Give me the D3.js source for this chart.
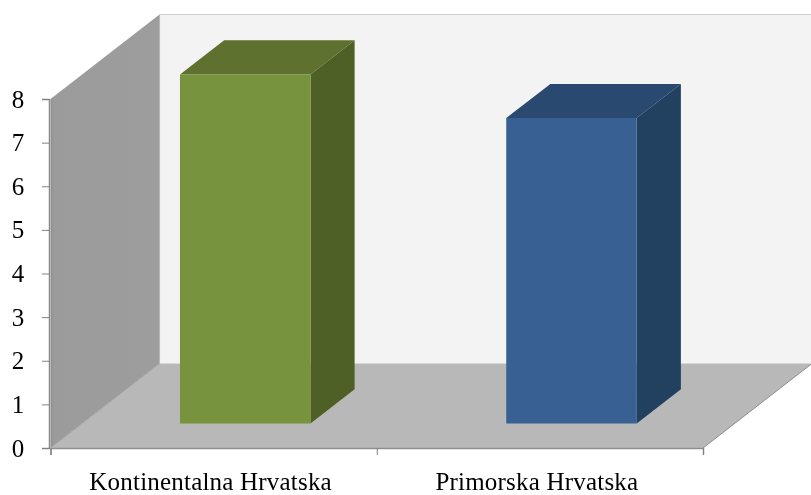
<!DOCTYPE html>
<html><head><meta charset="utf-8">
<script src="https://cdn.jsdelivr.net/npm/d3@7"></script>
<style>
html,body{margin:0;padding:0;background:#fff;}
svg{display:block;}
text{font-family:"Liberation Serif","Times New Roman",serif;fill:#000;}
</style></head><body>
<svg id="c" width="811" height="495"></svg>
<script>
const categories = ["Kontinentalna Hrvatska", "Primorska Hrvatska"];
const values = [8, 7];
const yTicks = [0, 1, 2, 3, 4, 5, 6, 7, 8];
const barFront = ["#77933c", "#376092"];
const barTop = ["#5f712e", "#2a4a70"];
const barSide = ["#4f6126", "#243f5e"];

const svg = d3.select("#c");
const defs = svg.append("defs");
const soft = (id, s) => defs.append("filter").attr("id",id).attr("x","-5%").attr("y","-5%").attr("width","110%").attr("height","110%")
  .append("feGaussianBlur").attr("stdDeviation",s);
soft("soft",0.45); soft("softText",0.3);

const x0 = 50.5, x1 = 703, y0 = 448, y8 = 99;
const depthX = 109, depthY = -84.5;
const x = d3.scaleBand().domain(categories).range([x0, x1]);
const y = d3.scaleLinear().domain([0, 8]).range([y0, y8]);
const line = d3.line();
const project = (px, val, depth) => [px + depthX * depth, y(val) + depthY * depth];

const g = svg.append("g").attr("filter","url(#soft)");

// back wall
g.append("path").attr("d", line([project(x0,0,1), project(x0,8,1), [815,y(8)+depthY], [815,y0+depthY]]))
  .attr("fill","#f3f3f3");
g.append("path").attr("d", line([project(x0,8,1), [815,y(8)+depthY]])).attr("stroke","#cfcfcf").attr("stroke-width",1.2).attr("fill","none");
g.append("path").attr("d", line([project(x0,8,1), project(x0,0,1)])).attr("stroke","#d4d4d4").attr("stroke-width",1.2).attr("fill","none");

// side wall
const wallGrad = defs.append("linearGradient").attr("id","wall").attr("x1",0).attr("x2",1).attr("y1",0).attr("y2",0);
wallGrad.append("stop").attr("offset",0).attr("stop-color","#8f8f8f");
wallGrad.append("stop").attr("offset",0.03).attr("stop-color","#9b9b9b");
wallGrad.append("stop").attr("offset",1).attr("stop-color","#9d9d9d");
g.append("path").attr("d", line([project(x0,0,0), project(x0,8,0), project(x0,8,1), project(x0,0,1)])+"Z")
  .attr("fill","url(#wall)");

// floor
g.append("path").attr("d", line([project(x0,0,0), project(x1,0,0), project(x1,0,1), project(x0,0,1)])+"Z")
  .attr("fill","#b8b8b8");
g.append("path").attr("d", line([project(x1,0,0), project(x1,0,1)])).attr("stroke","#8e8e8e").attr("stroke-width",1).attr("fill","none");
g.append("path").attr("d", line([project(x0,0,0), project(x0,0,1)])).attr("stroke","#a4a4a4").attr("stroke-width",1).attr("fill","none");

// bars
const halfBar = x.bandwidth() * 0.2;
const dNear = 0.29, dFar = 0.695;
categories.forEach((c, i) => {
  const cx = x(c) + x.bandwidth() / 2;
  const L = cx - halfBar, R = cx + halfBar, v = values[i];
  const group = g.append("g");
  group.append("path").attr("d", line([project(L,v,dNear), project(R,v,dNear), project(R,v,dFar), project(L,v,dFar)])+"Z").attr("fill",barTop[i]);
  group.append("path").attr("d", line([project(R,0,dNear), project(R,v,dNear), project(R,v,dFar), project(R,0,dFar)])+"Z").attr("fill",barSide[i]);
  group.append("path").attr("d", line([project(L,0,dNear), project(R,0,dNear), project(R,v,dNear), project(L,v,dNear)])+"Z").attr("fill",barFront[i]);
});

// axes
const axisG = svg.append("g").attr("filter","url(#soft)");
const axisY = d3.axisLeft(y).tickValues(yTicks).tickSize(7).tickFormat("");
const gy = axisG.append("g").attr("transform","translate(49,0)").call(axisY);
gy.selectAll("line").attr("stroke","#808080");
gy.select(".domain").attr("stroke","#8a8a8a").attr("stroke-width",1.5);

const gx = axisG.append("g").attr("transform",`translate(0,${y0})`);
const axisX = d3.axisBottom(d3.scalePoint().domain([0,1,2]).range([x0,x1])).tickSize(7).tickFormat("");
gx.call(axisX);
gx.selectAll("line").attr("stroke","#808080");
gx.select(".domain").attr("stroke","#8f8f8f").attr("stroke-width",1.5);

const labels = svg.append("g").attr("filter","url(#softText)");
labels.selectAll("text.ytick").data(yTicks).join("text").attr("class","ytick")
  .attr("x", 18).attr("y", d => y(d) + 8.5).attr("text-anchor","middle").attr("font-size",25)
  .text(d => d);
labels.selectAll("text.xlabel").data(categories).join("text").attr("class","xlabel")
  .attr("x", d => x(d) + x.bandwidth()/2 - 3)
  .attr("y", 489.5).attr("text-anchor","middle").attr("font-size",25).attr("letter-spacing",0.2)
  .text(d => d);
</script>
</body></html>
